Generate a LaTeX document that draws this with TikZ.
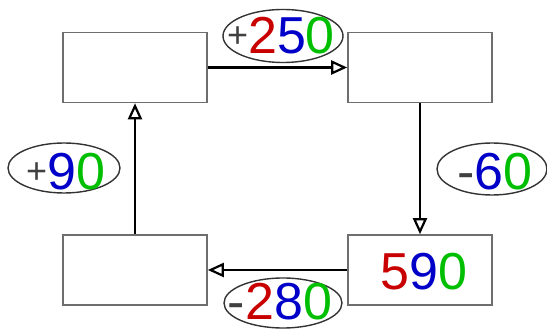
\documentclass[tikz,border=0pt]{standalone}
\usepackage{fontspec}
\setmainfont{Liberation Sans}
\usepackage{xcolor}
\usetikzlibrary{arrows.meta,shapes.geometric}
\definecolor{tinta}{HTML}{000000}
\definecolor{signo}{HTML}{404040}
\definecolor{borde}{HTML}{6E6E6E}
\definecolor{rojo}{HTML}{C80000}
\definecolor{azul}{HTML}{0000C8}
\definecolor{verde}{HTML}{00BE00}
\newcommand{\mas}{\raisebox{6pt}{\fontsize{36}{36}\selectfont\color{signo}+}}
\newcommand{\menos}{{\color{signo}-}}

\begin{document}
\begin{tikzpicture}[x=1pt,y=-1pt,
    caja/.style={draw=borde,line width=1.6pt,minimum width=144pt,
                 minimum height=70pt,inner sep=0pt},
    marca/.style={draw=tinta!80,ellipse,line width=1.4pt,inner sep=0pt},
    cifras/.style={inner sep=0pt,font=\fontsize{52}{52}\selectfont},
    flecha/.style={-{Triangle[open,length=16pt,width=14pt,fill=white]},
                   tinta,line width=2.2pt}]
  \useasboundingbox (0,0) rectangle (547,331);
  % the four accounts
  \node[caja] (ai) at (135,67.5) {};
  \node[caja] (ad) at (420,67.5) {};
  \node[caja] (bi) at (135,270) {};
  \node[caja] (bd) at (420,270) {};
  \node[cifras] at (424,272) {{\color{rojo}5}{\color{azul}9}{\color{verde}0}};
  % transfers round the cycle
  \draw[flecha] (ai.east) -- (ad.west);
  \draw[flecha] (ad.south) -- (bd.north);
  \draw[flecha] (bd.west) -- (bi.east);
  \draw[flecha] (bi.north) -- (ai.south);
  % amounts on each transfer
  \node[marca,minimum width=120pt,minimum height=53pt] (t1) at (283,36) {};
  \node[cifras] at (281,36) {\mas{\color{rojo}2}{\color{azul}5}{\color{verde}0}};
  \node[marca,minimum width=110pt,minimum height=52pt] (t2) at (492,169) {};
  \node[cifras] at (495,172) {\menos{\color{azul}6}{\color{verde}0}};
  \node[marca,minimum width=118pt,minimum height=50pt] (t3) at (283,303) {};
  \node[cifras] at (280,302) {\menos{\color{rojo}2}{\color{azul}8}{\color{verde}0}};
  \node[marca,minimum width=112pt,minimum height=50pt] (t4) at (64,168) {};
  \node[cifras] at (65.5,172) {\mas{\color{azul}9}{\color{verde}0}};
\end{tikzpicture}
\end{document}
